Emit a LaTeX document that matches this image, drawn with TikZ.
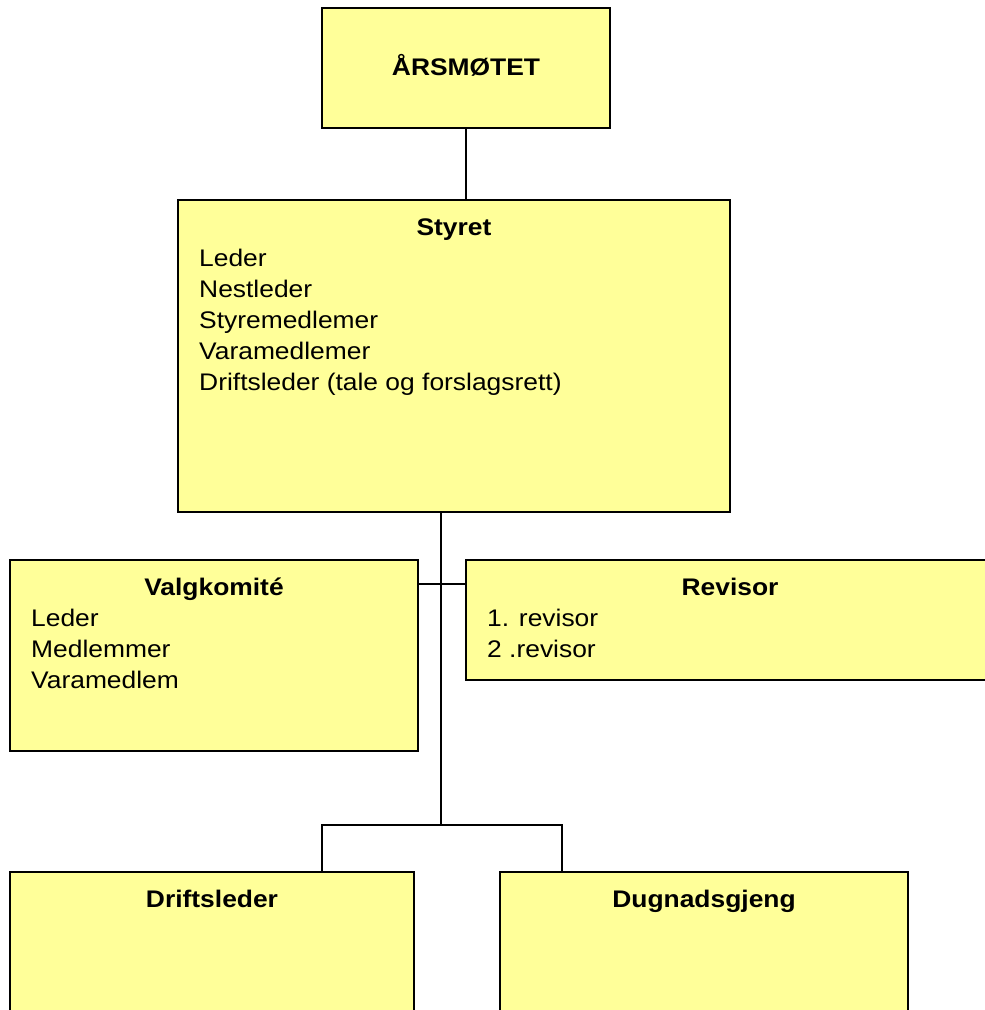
\documentclass[tikz,border=0pt]{standalone}
\usepackage{fontspec}
\setmainfont{Liberation Sans}[FakeStretch=1.1]
\definecolor{boxyellow}{RGB}{255,255,153}
\tikzstyle{yellowbox}=[rectangle, draw=black, fill=boxyellow, line width=2]
\tikzstyle{titletext}=[inner sep=0, anchor=base, font=\fontsize{24}{31}\selectfont\bfseries]
\tikzstyle{listtext}=[inner sep=0, anchor=base west, align=left, font=\fontsize{24}{31}\selectfont]
\tikzstyle{orgline}=[black, line width=2]

\begin{document}
\begin{tikzpicture}[x=1pt, y=-1pt]
      \useasboundingbox (0,0) rectangle (985,1010);
      \clip (0,0) rectangle (985,1010);
      \fill[white] (0,0) rectangle (985,1010);
      \node[yellowbox, minimum width=288, minimum height=120] (aarsmote) at (466,68) {};
      \node[yellowbox, minimum width=552, minimum height=312] (styret) at (454,356) {};
      \node[yellowbox, minimum width=408, minimum height=191] (valg) at (214,655.5) {};
      \node[yellowbox, minimum width=528, minimum height=120] (revisor) at (730,620) {};
      \node[yellowbox, minimum width=404, minimum height=168] (drift) at (212,956) {};
      \node[yellowbox, minimum width=408, minimum height=168] (dugnad) at (704,956) {};
      \node[titletext] (aarsmotetitle) at (466,75) {ÅRSMØTET};
      \node[titletext] (styrettitle) at (454,235) {Styret};
      \node[listtext] (styretlist) at (199,390) {Leder\\Nestleder\\Styremedlemer\\Varamedlemer\\Driftsleder (tale og forslagsrett)};
      \node[titletext] (valgtitle) at (214,595) {Valgkomité};
      \node[listtext] (valglist) at (31,688) {Leder\\Medlemmer\\Varamedlem};
      \node[titletext] (revisortitle) at (730,595) {Revisor};
      \node[listtext] (revisorlist) at (487,657) {1. revisor\\2 .revisor};
      \node[titletext] (drifttitle) at (212,907) {Driftsleder};
      \node[titletext] (dugnadtitle) at (704,907) {Dugnadsgjeng};
      \coordinate (trunk) at (441,825);
      \coordinate (mid) at (441,584);
      \coordinate (dl) at (322,825);
      \coordinate (dr) at (562,825);
      \draw[orgline] (aarsmote.south) -- (aarsmote.south |- styret.north);
      \draw[orgline] (trunk |- styret.south) -- (trunk);
      \draw[orgline] (valg.east |- mid) -- (revisor.west |- mid);
      \draw[orgline] (dl |- drift.north) -- (dl) -- (dr) -- (dr |- dugnad.north);
    \end{tikzpicture}
\end{document}
